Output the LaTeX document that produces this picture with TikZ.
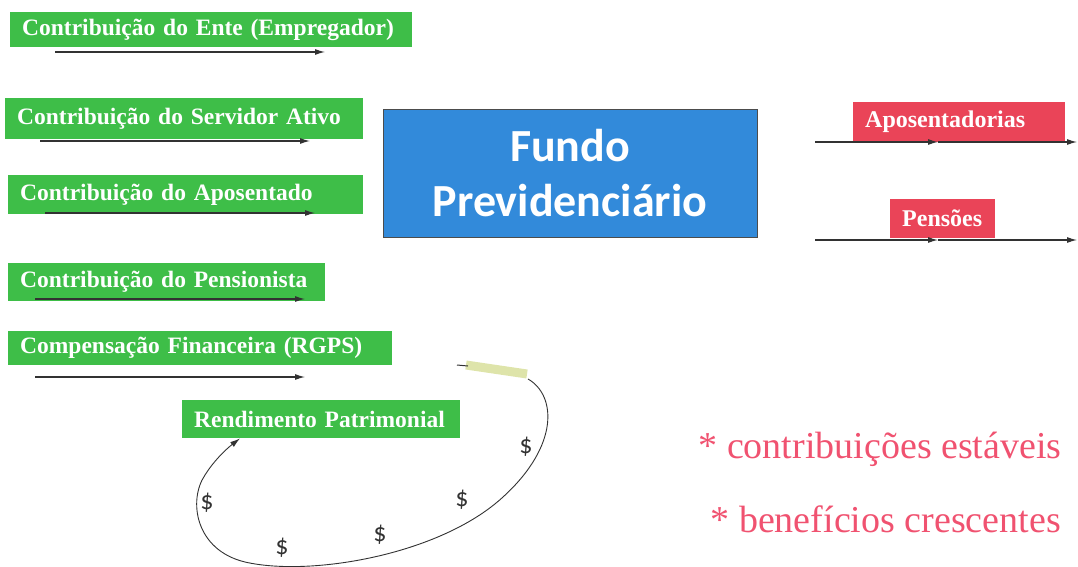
\documentclass[tikz,border=0pt]{standalone}
\usepackage{fontspec}
\setmainfont{Liberation Serif}
\newfontfamily\fundofont{Carlito}
\usetikzlibrary{arrows.meta}

\definecolor{ingreen}{RGB}{62,190,72}
\definecolor{fundblue}{RGB}{50,138,218}
\definecolor{outred}{RGB}{234,68,88}
\definecolor{notepink}{RGB}{240,82,112}
\definecolor{markyellow}{RGB}{222,228,170}
\definecolor{flowgray}{RGB}{50,50,50}

\begin{document}
\begin{tikzpicture}[
    x=1pt, y=-1pt,
    inblock/.style={fill=ingreen, text=white, anchor=north west, align=left,
        inner xsep=12pt, inner ysep=0pt, font=\bfseries\fontsize{23.5}{26}\selectfont},
    outblock/.style={fill=outred, text=white, anchor=north west, align=left,
        inner xsep=12pt, inner ysep=0pt, font=\bfseries\fontsize{24}{26}\selectfont},
    fundblock/.style={fill=fundblue, draw=black!70, line width=1pt, text=white,
        align=center, font=\fundofont\bfseries\fontsize{46}{55}\selectfont},
    flow/.style={draw=flowgray, line width=1.1pt, -{Latex[length=10pt,width=6pt]}},
    lbl/.style={text=flowgray, font=\fundofont\fontsize{26}{28}\selectfont},
    note/.style={text=notepink, anchor=base west, font=\fontsize{38}{40}\selectfont}
]
    \useasboundingbox (0,0) rectangle (1078,567);

    % ---- incoming contributions ----
    \node[inblock, text width=378pt, minimum height=35pt] (ente)  at (10,12)  {\mbox{Contribuição do Ente (Empregador)}};
    \node[inblock, text width=334pt, minimum height=41pt] (ativo) at (5,98)   {\mbox{Contribuição do Servidor Ativo}};
    \node[inblock, text width=331pt, minimum height=39pt] (apos)  at (8,175)  {\mbox{Contribuição do Aposentado}};
    \node[inblock, text width=293pt, minimum height=38pt] (pens)  at (8,263)  {\mbox{Contribuição do Pensionista}};
    \node[inblock, text width=360pt, minimum height=34pt] (comp)  at (8,331)  {\mbox{Compensação Financeira (RGPS)}};
    \node[inblock, text width=254pt, minimum height=38pt] (rend)  at (182,400) {\mbox{Rendimento Patrimonial}};

    \foreach \n/\y/\xa/\xb in {ente/52/55/325, ativo/141/40/310, apos/213/45/315,
                               pens/299/35/305, comp/377/35/305} {
        \coordinate (\n-a) at (\xa,\y);
        \coordinate (\n-b) at (\xb,\y);
        \draw[flow] (\n-a) -- (\n-b);
    }

    % ---- the fund ----
    \node[fundblock, minimum width=374pt, minimum height=127pt] (fundo) at (570,173.5)
        {Fundo\\Previdenciário};

    % ---- outgoing benefits ----
    \node[outblock, text width=188pt, minimum height=40pt] (apobox) at (853,102) {\mbox{Aposentadorias}};
    \node[outblock, text width=81pt,  minimum height=39pt] (penbox) at (890,199) {\mbox{Pensões}};

    \foreach \n/\y in {apo/142, pen/240} {
        \coordinate (\n-a) at (815,\y);
        \coordinate (\n-m) at (938,\y);
        \coordinate (\n-b) at (1077,\y);
        \draw[flow] (\n-a) -- (\n-m);
        \draw[flow] (\n-m) -- (\n-b);
    }

    % ---- return loop ----
    \draw[markyellow, line width=9pt] (466,365) -- (527,374);
    \draw[flowgray, line width=1pt] (457,365) -- (468,366);
    \coordinate (loop-a) at (528,379);
    \draw[flow, line width=0.9pt] (loop-a)
        .. controls (556,395) and (560,445) .. (503,497)
        .. controls (440,555) and (310,577) .. (245,562)
        .. controls (195,550) and (188,500) .. (205,475)
        .. controls (213,462) and (225,450) .. ([xshift=58pt]rend.south west);

    \foreach \x/\y [count=\i] in {526/447, 462/500, 380/535, 282/548, 207/503} {
        \node[lbl] (cash\i) at (\x,\y) {\$};
    }

    % ---- notes ----
    \node[note] (stable)  at (695,458) {* contribuições estáveis};
    \node[note] (growing) at (707,532) {* benefícios crescentes};
\end{tikzpicture}
\end{document}
